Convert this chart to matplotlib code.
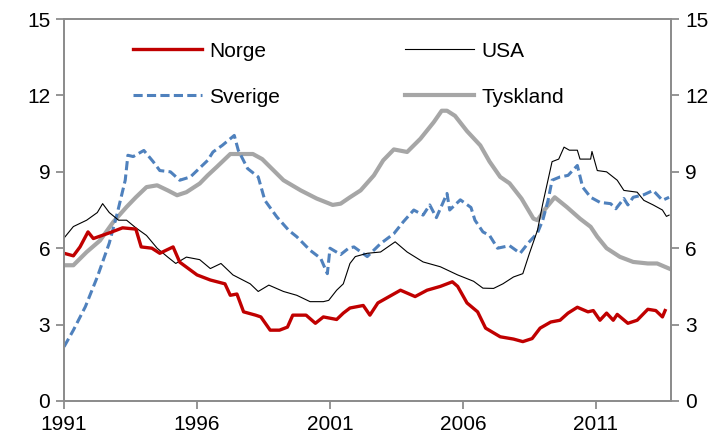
import matplotlib
matplotlib.use("Agg")
import matplotlib.pyplot as plt

plt.rcParams['font.family'] = ['Liberation Sans', 'DejaVu Sans']

# Arbeidsledighet, prosent (lest av figuren)
norge_x = [1991.0, 1991.35, 1991.6, 1991.9, 1992.1, 1992.7, 1993.2, 1993.7, 1993.9, 1994.3,
           1994.6, 1995.1, 1995.35, 1996.0, 1996.5, 1997.05, 1997.25, 1997.5, 1997.75, 1998.2,
           1998.4, 1998.75, 1999.1, 1999.4, 1999.6, 2000.1, 2000.45, 2000.75, 2001.25, 2001.5,
           2001.75, 2002.25, 2002.5, 2002.8, 2003.65, 2004.2, 2004.65, 2005.15, 2005.6, 2005.8,
           2006.15, 2006.55, 2006.85, 2007.4, 2007.9, 2008.25, 2008.6, 2008.9, 2009.3, 2009.65,
           2009.95, 2010.3, 2010.7, 2010.9, 2011.15, 2011.4, 2011.65, 2011.8, 2012.2, 2012.55,
           2012.95, 2013.25, 2013.5, 2013.6]
norge = [5.8, 5.7, 6.05, 6.64, 6.38, 6.6, 6.8, 6.75, 6.05, 6.0,
         5.8, 6.05, 5.45, 4.95, 4.75, 4.6, 4.15, 4.2, 3.5, 3.37,
         3.3, 2.78, 2.78, 2.9, 3.37, 3.37, 3.05, 3.3, 3.2, 3.45,
         3.65, 3.75, 3.37, 3.85, 4.35, 4.1, 4.35, 4.5, 4.68, 4.5,
         3.85, 3.5, 2.86, 2.52, 2.43, 2.33, 2.45, 2.86, 3.1, 3.17,
         3.45, 3.68, 3.5, 3.55, 3.17, 3.45, 3.17, 3.4, 3.05, 3.17,
         3.6, 3.55, 3.3, 3.55]

usa_x = [1991.0, 1991.35, 1991.85, 1992.25, 1992.45, 1992.7, 1993.05, 1993.35, 1993.7, 1994.1,
         1994.5, 1994.9, 1995.2, 1995.6, 1996.1, 1996.5, 1996.9, 1997.35, 1998.0, 1998.3,
         1998.7, 1999.25, 1999.75, 2000.25, 2000.75, 2000.95, 2001.25, 2001.5, 2001.75, 2001.95,
         2002.4, 2002.9, 2003.45, 2003.9, 2004.5, 2005.15, 2005.8, 2006.4, 2006.75, 2007.15,
         2007.5, 2007.9, 2008.25, 2008.5, 2008.8, 2009.0, 2009.35, 2009.6, 2009.8, 2010.0,
         2010.3, 2010.4, 2010.8, 2010.85, 2011.05, 2011.4, 2011.8, 2012.05, 2012.55, 2012.8,
         2013.15, 2013.5, 2013.65, 2013.75]
usa = [6.4, 6.85, 7.1, 7.4, 7.75, 7.4, 7.1, 7.1, 6.8, 6.5,
       6.0, 5.65, 5.4, 5.65, 5.55, 5.2, 5.4, 4.95, 4.6, 4.3,
       4.55, 4.3, 4.15, 3.9, 3.9, 3.95, 4.35, 4.6, 5.4, 5.67,
       5.8, 5.85, 6.25, 5.85, 5.46, 5.27, 4.95, 4.7, 4.43, 4.42,
       4.6, 4.87, 5.0, 5.8, 6.7, 7.75, 9.4, 9.5, 9.97, 9.85,
       9.85, 9.5, 9.5, 9.8, 9.05, 9.0, 8.67, 8.27, 8.2, 7.88,
       7.7, 7.5, 7.25, 7.3]

sverige_x = [1991.0, 1991.35, 1991.8, 1992.25, 1992.7, 1993.0, 1993.3, 1993.4, 1993.6, 1994.0,
             1994.15, 1994.35, 1994.6, 1995.0, 1995.35, 1995.75, 1996.0, 1996.4, 1996.6, 1996.95,
             1997.4, 1997.55, 1997.9, 1998.3, 1998.55, 1999.0, 1999.45, 1999.75, 2000.25, 2000.65,
             2000.9, 2001.0, 2001.4, 2001.7, 2001.9, 2002.4, 2002.9, 2003.4, 2003.75, 2004.15,
             2004.5, 2004.75, 2005.0, 2005.4, 2005.5, 2005.9, 2006.3, 2006.45, 2006.75, 2007.0,
             2007.3, 2007.75, 2008.15, 2008.45, 2008.8, 2009.0, 2009.2, 2009.35, 2009.65, 2009.95,
             2010.3, 2010.5, 2010.8, 2011.15, 2011.55, 2011.75, 2012.05, 2012.2, 2012.4, 2012.8,
             2013.15, 2013.5, 2013.75]
sverige = [2.13, 2.78, 3.7, 4.87, 6.2, 7.37, 8.67, 9.65, 9.6, 9.84,
           9.65, 9.4, 9.05, 9.0, 8.67, 8.8, 9.05, 9.45, 9.78, 10.04,
           10.43, 9.85, 9.13, 8.8, 7.88, 7.23, 6.7, 6.45, 5.92, 5.6,
           5.0, 6.0, 5.75, 6.0, 6.05, 5.67, 6.18, 6.57, 7.03, 7.5,
           7.3, 7.7, 7.2, 8.15, 7.5, 7.9, 7.6, 7.1, 6.64, 6.5,
           6.0, 6.1, 5.8, 6.2, 6.6, 7.1, 7.88, 8.67, 8.8, 8.86,
           9.25, 8.4, 8.0, 7.8, 7.75, 7.55, 7.95, 7.7, 8.0, 8.1,
           8.27, 7.88, 8.0]

tyskland_x = [1991.0, 1991.35, 1991.85, 1992.35, 1992.85, 1993.35, 1993.7, 1994.1, 1994.5, 1994.9,
              1995.25, 1995.6, 1996.1, 1996.4, 1996.75, 1997.25, 1998.1, 1998.45, 1999.25, 1999.9,
              2000.5, 2001.1, 2001.4, 2001.75, 2002.15, 2002.65, 2003.0, 2003.4, 2003.9, 2004.4,
              2004.9, 2005.2, 2005.4, 2005.7, 2006.15, 2006.65, 2007.0, 2007.4, 2007.75, 2008.2,
              2008.65, 2008.8, 2009.1, 2009.45, 2009.9, 2010.4, 2010.8, 2011.05, 2011.4, 2011.9,
              2012.4, 2012.95, 2013.3, 2013.75]
tyskland = [5.33, 5.33, 5.85, 6.3, 7.03, 7.62, 8.0, 8.4, 8.47, 8.27,
            8.08, 8.2, 8.54, 8.86, 9.2, 9.7, 9.7, 9.5, 8.67, 8.27,
            7.95, 7.7, 7.75, 8.0, 8.27, 8.86, 9.45, 9.88, 9.78, 10.3,
            10.95, 11.4, 11.4, 11.2, 10.6, 10.04, 9.4, 8.8, 8.55, 7.95,
            7.16, 7.1, 7.55, 8.0, 7.62, 7.16, 6.84, 6.45, 6.0, 5.66,
            5.46, 5.4, 5.4, 5.2]

year_ticks = [1991, 1996, 2001, 2006, 2011]
y_ticks = [0, 3, 6, 9, 12, 15]

spine_col = '#8C8C8C'

fig = plt.figure(figsize=(7.28, 4.44), dpi=100)
ax = fig.add_axes([0.088, 0.097, 0.834, 0.860])

ax.plot(tyskland_x, tyskland, color='#A6A6A6', lw=3.0, label='Tyskland', zorder=2)
ax.plot(sverige_x, sverige, color='#4F81BD', lw=2.2, ls=(0, (3.0, 1.4)), label='Sverige', zorder=3)
ax.plot(usa_x, usa, color='black', lw=0.8, label='USA', zorder=4)
ax.plot(norge_x, norge, color='#C00000', lw=2.4, label='Norge', zorder=5)

ax.set_xlim(1991, 2013.83)
ax.set_ylim(0, 15)
ax.set_xticks(year_ticks)
ax.set_xticklabels([str(y) for y in year_ticks])
ax.set_yticks(y_ticks)

ax2 = ax.twinx()
ax2.set_ylim(0, 15)
ax2.set_yticks(y_ticks)

for a in (ax, ax2):
    for s in a.spines.values():
        s.set_color(spine_col)
        s.set_linewidth(1.3)
    a.tick_params(direction='out', length=6, width=1.3, color=spine_col,
                  labelsize=15, labelcolor='black', pad=4)

# legend: Norge, USA / Sverige, Tyskland
h, l = ax.get_legend_handles_labels()
idx = [3, 1, 2, 0]
ax.legend([h[i] for i in idx], [l[i] for i in idx],
          ncol=2, frameon=False, loc='upper left', bbox_to_anchor=(0.083, 0.99),
          fontsize=15, handlelength=3.3, handletextpad=0.35, columnspacing=6.0,
          labelspacing=1.3)

fig.savefig('out.png', dpi=100)
